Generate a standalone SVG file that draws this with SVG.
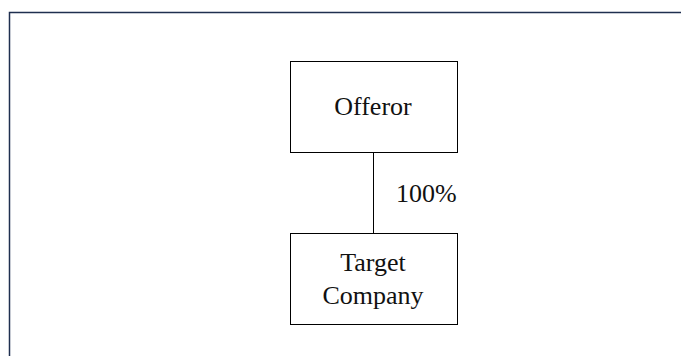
<svg xmlns="http://www.w3.org/2000/svg" width="681" height="356" viewBox="0 0 681 356">
<style>
.box{fill:#fff;stroke:#000;stroke-width:1}
.t{font-family:"Liberation Serif","Times New Roman",serif;font-size:26px;fill:#111}
.c{text-anchor:middle}
</style>
<rect width="681" height="356" fill="#fff"/>
<path d="M9.5 356 V12.5 H681" fill="none" stroke="#1f2f4f" stroke-width="1.5"/>
<g id="connectors">
<line x1="373.5" y1="152" x2="373.5" y2="233" stroke="#000" stroke-width="1"/>
<text class="t" x="396" y="202">100%</text>
</g>
<g id="offeror">
<rect class="box" x="290.5" y="61.5" width="167" height="91"/>
<text class="t c" x="373" y="115">Offeror</text>
</g>
<g id="target">
<rect class="box" x="290.5" y="233.5" width="167" height="91"/>
<text class="t c" x="373" y="271">Target</text>
<text class="t c" x="373" y="304">Company</text>
</g>
</svg>
